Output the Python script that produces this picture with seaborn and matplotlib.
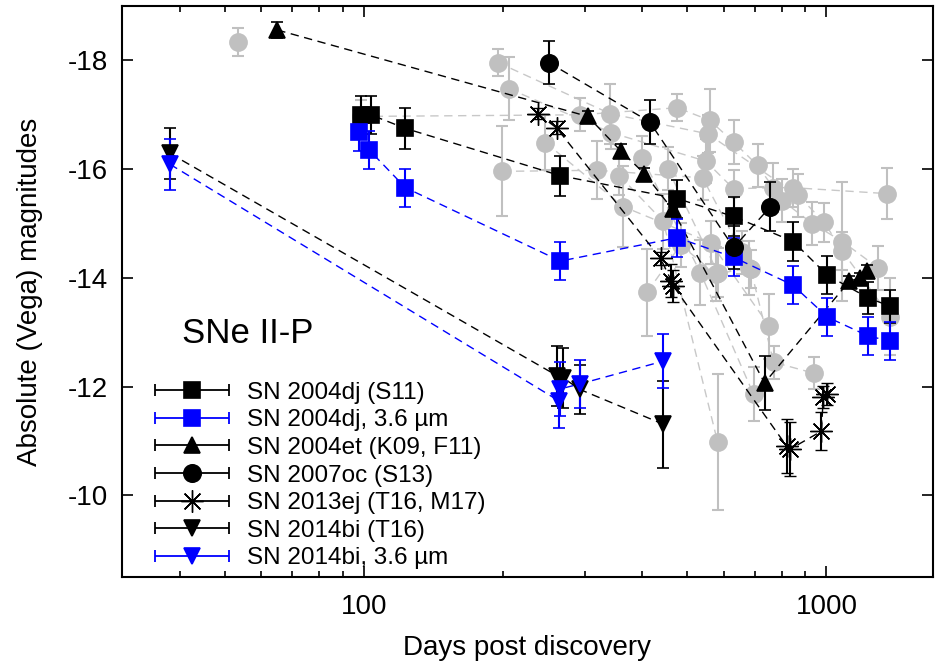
#Absolute magnitudes of SNe II-P vs days post discovery
import seaborn as sns
import matplotlib.pyplot as plt
import numpy as np
import pandas as pd
from matplotlib.container import ErrorbarContainer
from matplotlib.lines import Line2D
from matplotlib.collections import LineCollection
from matplotlib.legend_handler import HandlerErrorbar
from matplotlib.ticker import LogLocator, NullFormatter

# SN 2004dj (S11)
d04dj = [98.5, 103.5, 123, 266, 476, 630, 848, 1005, 1233, 1375]
m04dj = [-17.0, -17.0, -16.75, -15.88, -15.46, -15.13, -14.67, -14.05, -13.63, -13.48]
e04dj = [0.35, 0.35, 0.37, 0.37, 0.35, 0.35, 0.35, 0.35, 0.3, 0.3]
# SN 2004dj, 3.6 um
d04dj_ir = [97.5, 102.5, 123, 266, 476, 630, 846, 1005, 1233, 1375]
m04dj_ir = [-16.69, -16.36, -15.66, -14.31, -14.74, -14.38, -13.87, -13.28, -12.93, -12.84]
e04dj_ir = [0.35, 0.35, 0.35, 0.35, 0.35, 0.35, 0.35, 0.35, 0.35, 0.35]
# SN 2004et (K09, F11)
d04et = [65, 305, 359, 404, 465, 735, 1121, 1184, 1223]
m04et = [-18.56, -16.97, -16.34, -15.92, -15.26, -12.07, -13.94, -14.0, -14.12]
e04et = [0.15, 0.1, 0.12, 0.1, 0.1, 0.5, 0.1, 0.1, 0.12]
# SN 2007oc (S13)
d07oc = [251, 415, 630, 757]
m07oc = [-17.96, -16.87, -14.56, -15.31]
e07oc = [0.4, 0.4, 0.4, 0.45]
# SN 2013ej (T16, M17)
d13ej = [237.5, 261, 438, 462, 467, 820, 834, 975, 985, 1005]
m13ej = [-17.02, -16.76, -14.36, -13.95, -13.85, -10.91, -10.85, -11.18, -11.81, -11.87]
e13ej = [0.1, 0.12, 0.12, 0.3, 0.3, 0.5, 0.5, 0.35, 0.2, 0.2]
# SN 2014bi (T16)
d14bi = [38.1, 262, 270, 293, 444]
m14bi = [-16.29, -12.2, -12.16, -11.95, -11.31]
e14bi = [0.47, 0.55, 0.55, 0.45, 0.8]
# SN 2014bi, 3.6 um
d14bi_ir = [38.1, 264, 266, 293, 444]
m14bi_ir = [-16.09, -11.74, -11.96, -12.05, -12.47]
e14bi_ir = [0.47, 0.5, 0.5, 0.45, 0.5]

# comparison SNe (grey)
grey_days = [
    [53.4],
    [98.5, 293, 476, 559, 630, 710, 803, 933, 1083, 1296],
    [195, 341, 554, 868, 990, 1083, 1375],
    [206, 343, 548, 630, 768, 848, 1355],
    [199, 320, 540, 686, 769, 938],
    [247, 364, 562, 753],
    [400, 534, 696],
    [357, 444, 582],
    [410, 484, 576, 679],
    [454, 582, 657],
]
grey_mags = [
    [-18.34],
    [-16.97, -17.0, -17.13, -16.9, -16.5, -16.07, -15.42, -15.0, -14.67, -14.18],
    [-17.96, -17.02, -16.65, -15.52, -15.02, -14.49, -13.29],
    [-17.48, -16.67, -16.15, -15.64, -15.66, -15.66, -15.55],
    [-15.96, -15.98, -15.84, -14.17, -12.45, -12.25],
    [-16.49, -15.31, -14.65, -13.11],
    [-16.21, -14.1, -11.86],
    [-15.88, -15.04, -10.98],
    [-13.74, -14.61, -14.07, -14.18],
    [-16.01, -14.1, -14.47],
]
grey_errs = [
    [0.25],
    [0.3, 0.3, 0.25, 0.58, 0.4, 0.4, 0.4, 0.4, 1.1, 0.4],
    [0.25, 0.55, 0.35, 0.4, 0.35, 0.35, 0.7],
    [0.58, 0.3, 0.4, 0.35, 0.45, 0.35, 0.47],
    [0.83, 0.53, 0.4, 0.35, 0.3, 0.3],
    [0.5, 0.75, 0.4, 0.6],
    [0.4, 0.6, 0.5],
    [0.35, 0.5, 1.25],
    [0.8, 0.4, 0.5, 0.5],
    [0.4, 0.45, 0.4],
]

sns.set_style('ticks')
plt.rcParams['font.family'] = ['Liberation Sans', 'DejaVu Sans']
plt.rcParams['axes.unicode_minus'] = False
plt.rcParams['text.color'] = 'black'
plt.rcParams['axes.labelcolor'] = 'black'
plt.rcParams['xtick.color'] = 'black'
plt.rcParams['ytick.color'] = 'black'

fig = plt.figure(figsize=(9.37, 6.65), dpi=100)
ax = fig.add_axes([0.1302, 0.1323, 0.8655, 0.8586])
ax.set_xscale('log')

GREY = '#c0c0c0'
DASH = (0, (6, 4))

for d, m, e in zip(grey_days, grey_mags, grey_errs):
    df = pd.DataFrame({'day': d, 'mag': m})
    if len(d) > 1:
        sns.lineplot(data=df, x='day', y='mag', sort=False, estimator=None,
                     color='#c8c8c8', lw=1.0, linestyle=DASH, ax=ax, zorder=1)
    ax.errorbar(d, m, yerr=e, fmt='', marker='o', ls='none', color=GREY, ms=12.5,
                mec=GREY, elinewidth=1.5, capsize=4, capthick=1.5, zorder=2)

series = [
    (d04dj, m04dj, e04dj, 's', 'black', 12, 'SN 2004dj (S11)'),
    (d04dj_ir, m04dj_ir, e04dj_ir, 's', 'blue', 12, 'SN 2004dj, 3.6 µm'),
    (d04et, m04et, e04et, '^', 'black', 12, 'SN 2004et (K09, F11)'),
    (d07oc, m07oc, e07oc, 'o', 'black', 12.5, 'SN 2007oc (S13)'),
    (d13ej, m13ej, e13ej, (8, 2, 0), 'black', 16, 'SN 2013ej (T16, M17)'),
    (d14bi, m14bi, e14bi, 'v', 'black', 12, 'SN 2014bi (T16)'),
    (d14bi_ir, m14bi_ir, e14bi_ir, 'v', 'blue', 12, 'SN 2014bi, 3.6 µm'),
]

handles = []
for d, m, e, mk, c, ms, lab in series:
    df = pd.DataFrame({'day': d, 'mag': m})
    sns.lineplot(data=df, x='day', y='mag', sort=False, estimator=None,
                 color=c, lw=1.0, linestyle=DASH, ax=ax, zorder=3)
    mw = 1.0 if isinstance(mk, tuple) else 1.2
    ax.errorbar(d, m, yerr=e, fmt='', marker=mk, ls='none', color=c, ms=ms,
                mec=c, mew=mw, elinewidth=1.5, capsize=4, capthick=1.5, zorder=4)
    # legend proxy with horizontal error bar
    pl = Line2D([], [], marker=mk, color=c, ms=ms, mec=c, mew=mw, linestyle='none')
    cap = Line2D([], [], color=c, marker='|', ms=9, mew=1.3, linestyle='none')
    bar = LineCollection([], colors=c, linewidths=1.3)
    handles.append(ErrorbarContainer((pl, (cap,), (bar,)), has_xerr=True,
                                     has_yerr=False, label=lab))

ax.set_xlim(30, 1700)
ax.set_ylim(-8.5, -19)
ax.set_xticks([100, 1000])
ax.set_xticklabels(['100', '1000'])
ax.xaxis.set_minor_locator(LogLocator(base=10, subs=np.arange(2, 10)))
ax.xaxis.set_minor_formatter(NullFormatter())
ax.set_yticks([-18, -16, -14, -12, -10])
ax.tick_params(which='both', direction='in', top=True, right=True, labelsize=20,
               width=1.2, colors='black')
ax.tick_params(which='major', length=8)
ax.tick_params(axis='x', which='major', pad=12)
ax.tick_params(axis='y', which='major', pad=10)
ax.tick_params(which='minor', length=4)
for sp in ax.spines.values():
    sp.set_linewidth(1.5)
    sp.set_color('black')

ax.set_xlabel('Days post discovery', fontsize=20, labelpad=11)
ax.set_ylabel('Absolute (Vega) magnitudes', fontsize=20, labelpad=18)

ax.text(0.074, 0.427, 'SNe II-P', transform=ax.transAxes, fontsize=25,
        va='center', ha='left')

ax.legend(handles=handles, loc='upper left', bbox_to_anchor=(0.0407, 0.342),
          frameon=False, fontsize=17.5, handlelength=3.05, handletextpad=0.74,
          labelspacing=0.23, borderpad=0, borderaxespad=0, numpoints=1,
          handler_map={ErrorbarContainer: HandlerErrorbar(xerr_size=1.52)})

plt.savefig('out.png', dpi=100)
